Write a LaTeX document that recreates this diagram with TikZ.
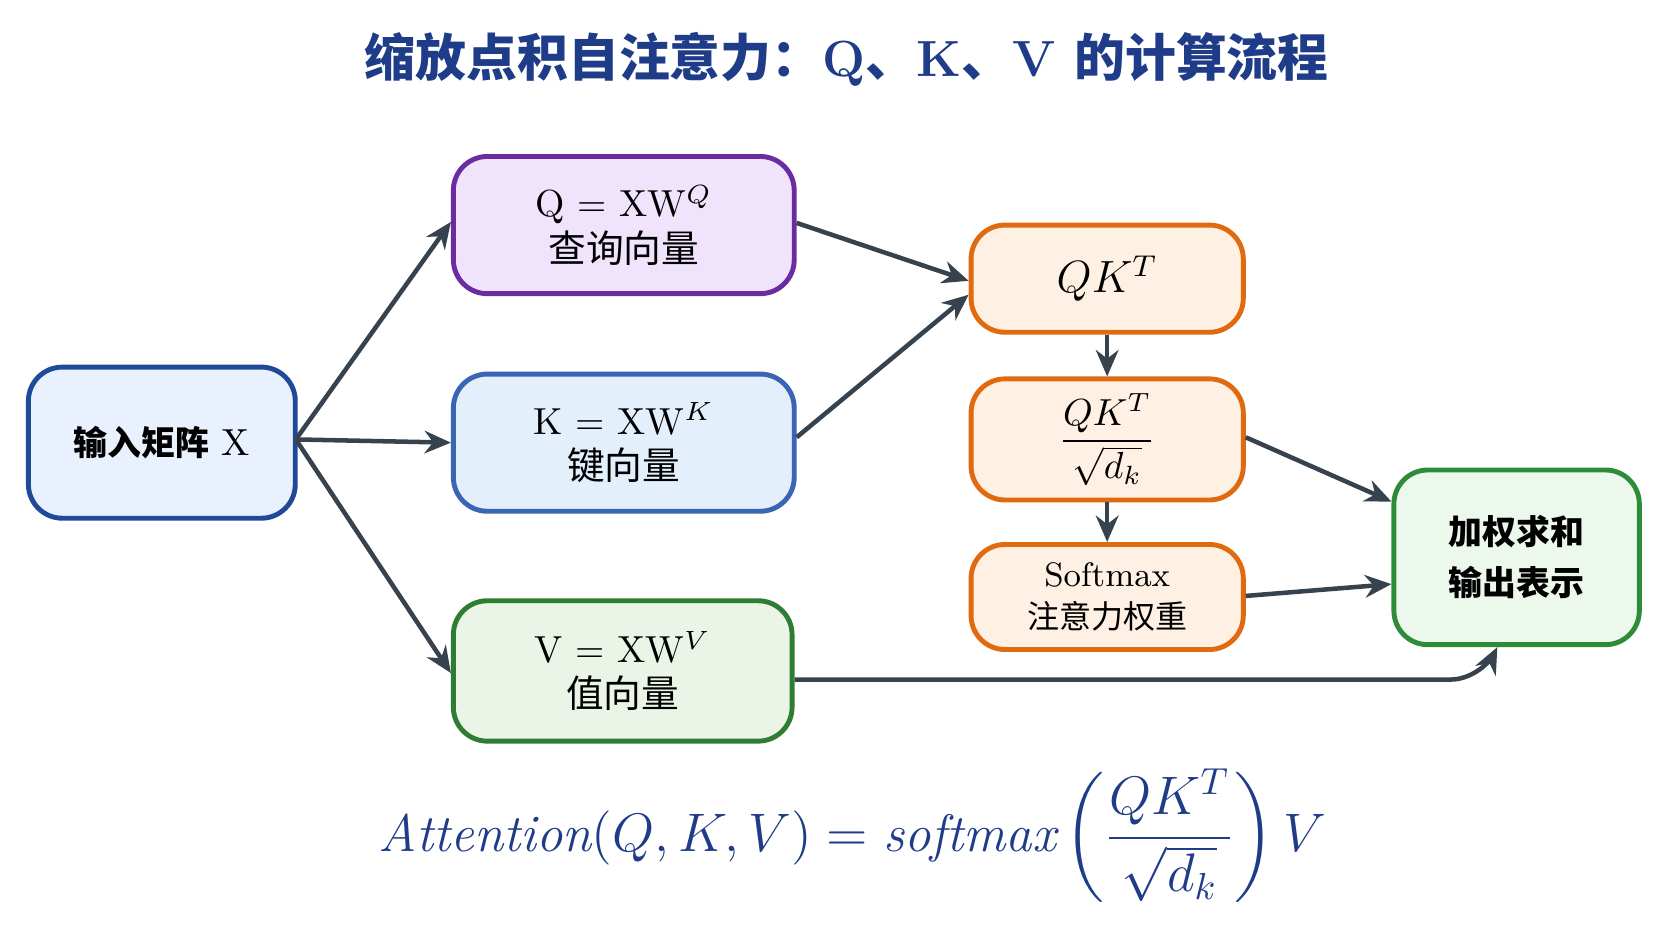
\documentclass[tikz,border=0pt]{standalone}
\usepackage{amsmath}
\usepackage{fontspec}
\newfontfamily\cjk{Noto Sans CJK SC}
\usetikzlibrary{arrows.meta,positioning}
\definecolor{navy}{HTML}{1F3C88}
\definecolor{arrowgray}{HTML}{37424F}
\definecolor{inFill}{HTML}{E8F1FD}\definecolor{inLine}{HTML}{1F4A9A}
\definecolor{qFill}{HTML}{EFE4FB}\definecolor{qLine}{HTML}{6A2CA0}
\definecolor{kFill}{HTML}{E4EFFC}\definecolor{kLine}{HTML}{3A64B4}
\definecolor{vFill}{HTML}{EAF5E8}\definecolor{vLine}{HTML}{2E7D32}
\definecolor{oFill}{HTML}{FEF1E4}\definecolor{oLine}{HTML}{E06A10}
\definecolor{gFill}{HTML}{EDF8EC}\definecolor{gLine}{HTML}{2E8B3A}
\tikzset{
  box/.style={draw, line width=1.3pt, rounded corners=9pt, align=center,
    font=\fontsize{10}{13}\selectfont, text=black},
  cn/.style={font=\cjk\fontsize{8.5}{12}\selectfont},
  flow/.style={draw=arrowgray, line width=1.2pt, -{Stealth[length=7pt,width=6pt]}},
}
\begin{document}
\begin{tikzpicture}[x=1cm,y=-1cm]
\useasboundingbox (0,0) rectangle (15.6,8.78);
% title
\node (title) at (7.9,0.55) {\textcolor{navy}{\cjk\bfseries\fontsize{13.5}{16}\selectfont 缩放点积自注意力：\rmfamily\bfseries Q\cjk 、\rmfamily\bfseries K\cjk 、\rmfamily\bfseries V \cjk 的计算流程}};
% boxes
\node[box, fill=inFill, draw=inLine, minimum width=2.49cm, minimum height=1.41cm] (x) at (1.51,4.13) {{\cjk\bfseries\fontsize{9}{12}\selectfont 输入矩阵} X};
\node[box, fill=qFill, draw=qLine, minimum width=3.18cm, minimum height=1.28cm] (q) at (5.82,2.10) {Q = XW$^{Q}$\\[-1pt]{\cjk 查询向量}};
\node[box, fill=kFill, draw=kLine, minimum width=3.18cm, minimum height=1.28cm] (k) at (5.82,4.13) {K = XW$^{K}$\\[-1pt]{\cjk 键向量}};
\node[box, fill=vFill, draw=vLine, minimum width=3.16cm, minimum height=1.31cm] (v) at (5.81,6.26) {V = XW$^{V}$\\[-1pt]{\cjk 值向量}};
\node[box, fill=oFill, draw=oLine, minimum width=2.54cm, minimum height=1.0cm, font=\fontsize{12}{14}\selectfont] (qk) at (10.33,2.60) {$QK^{T}$};
\node[box, fill=oFill, draw=oLine, minimum width=2.54cm, minimum height=1.13cm] (scale) at (10.33,4.10) {$\dfrac{QK^{T}}{\sqrt{d_k}}$};
\node[box, fill=oFill, draw=oLine, minimum width=2.54cm, minimum height=0.98cm, font=\fontsize{9}{11}\selectfont] (soft) at (10.33,5.57) {Softmax\\{\cjk\fontsize{8.5}{11}\selectfont 注意力权重}};
\node[box, fill=gFill, draw=gLine, minimum width=2.29cm, minimum height=1.63cm, font=\cjk\bfseries\fontsize{9}{13.5}\selectfont] (out) at (14.15,5.20) {加权求和\\输出表示};
% connectors
\coordinate (xe) at (2.76,4.10);
\draw[flow] (xe) -- ([yshift=0.03cm]q.west);
\draw[flow] (xe) -- (k.west);
\draw[flow] (xe) -- ([yshift=-0.02cm]v.west);
\draw[flow] ([yshift=0.02cm]q.east) -- ([yshift=-0.02cm]qk.west);
\draw[flow] ([yshift=0.05cm]k.east) -- ([yshift=-0.15cm]qk.west);
\draw[flow] (qk) -- (scale);
\draw[flow] (scale) -- (soft);
\draw[flow] ([yshift=0.02cm]scale.east) -- ([yshift=0.52cm]out.west);
\draw[flow] ([yshift=0.01cm]soft.east) -- ([yshift=-0.25cm]out.west);
\draw[flow, rounded corners=8pt] ([yshift=-0.08cm]v.east) -- (13.82,6.34) -- ([xshift=-0.18cm]out.south);
% formula
\node (formula) at (7.95,7.80) {\textcolor{navy}{\fontsize{14}{17}\selectfont $\mathit{Attention}(Q,K,V)=\mathit{softmax}\left(\dfrac{QK^{T}}{\sqrt{d_k}}\right)V$}};
\end{tikzpicture}
\end{document}
